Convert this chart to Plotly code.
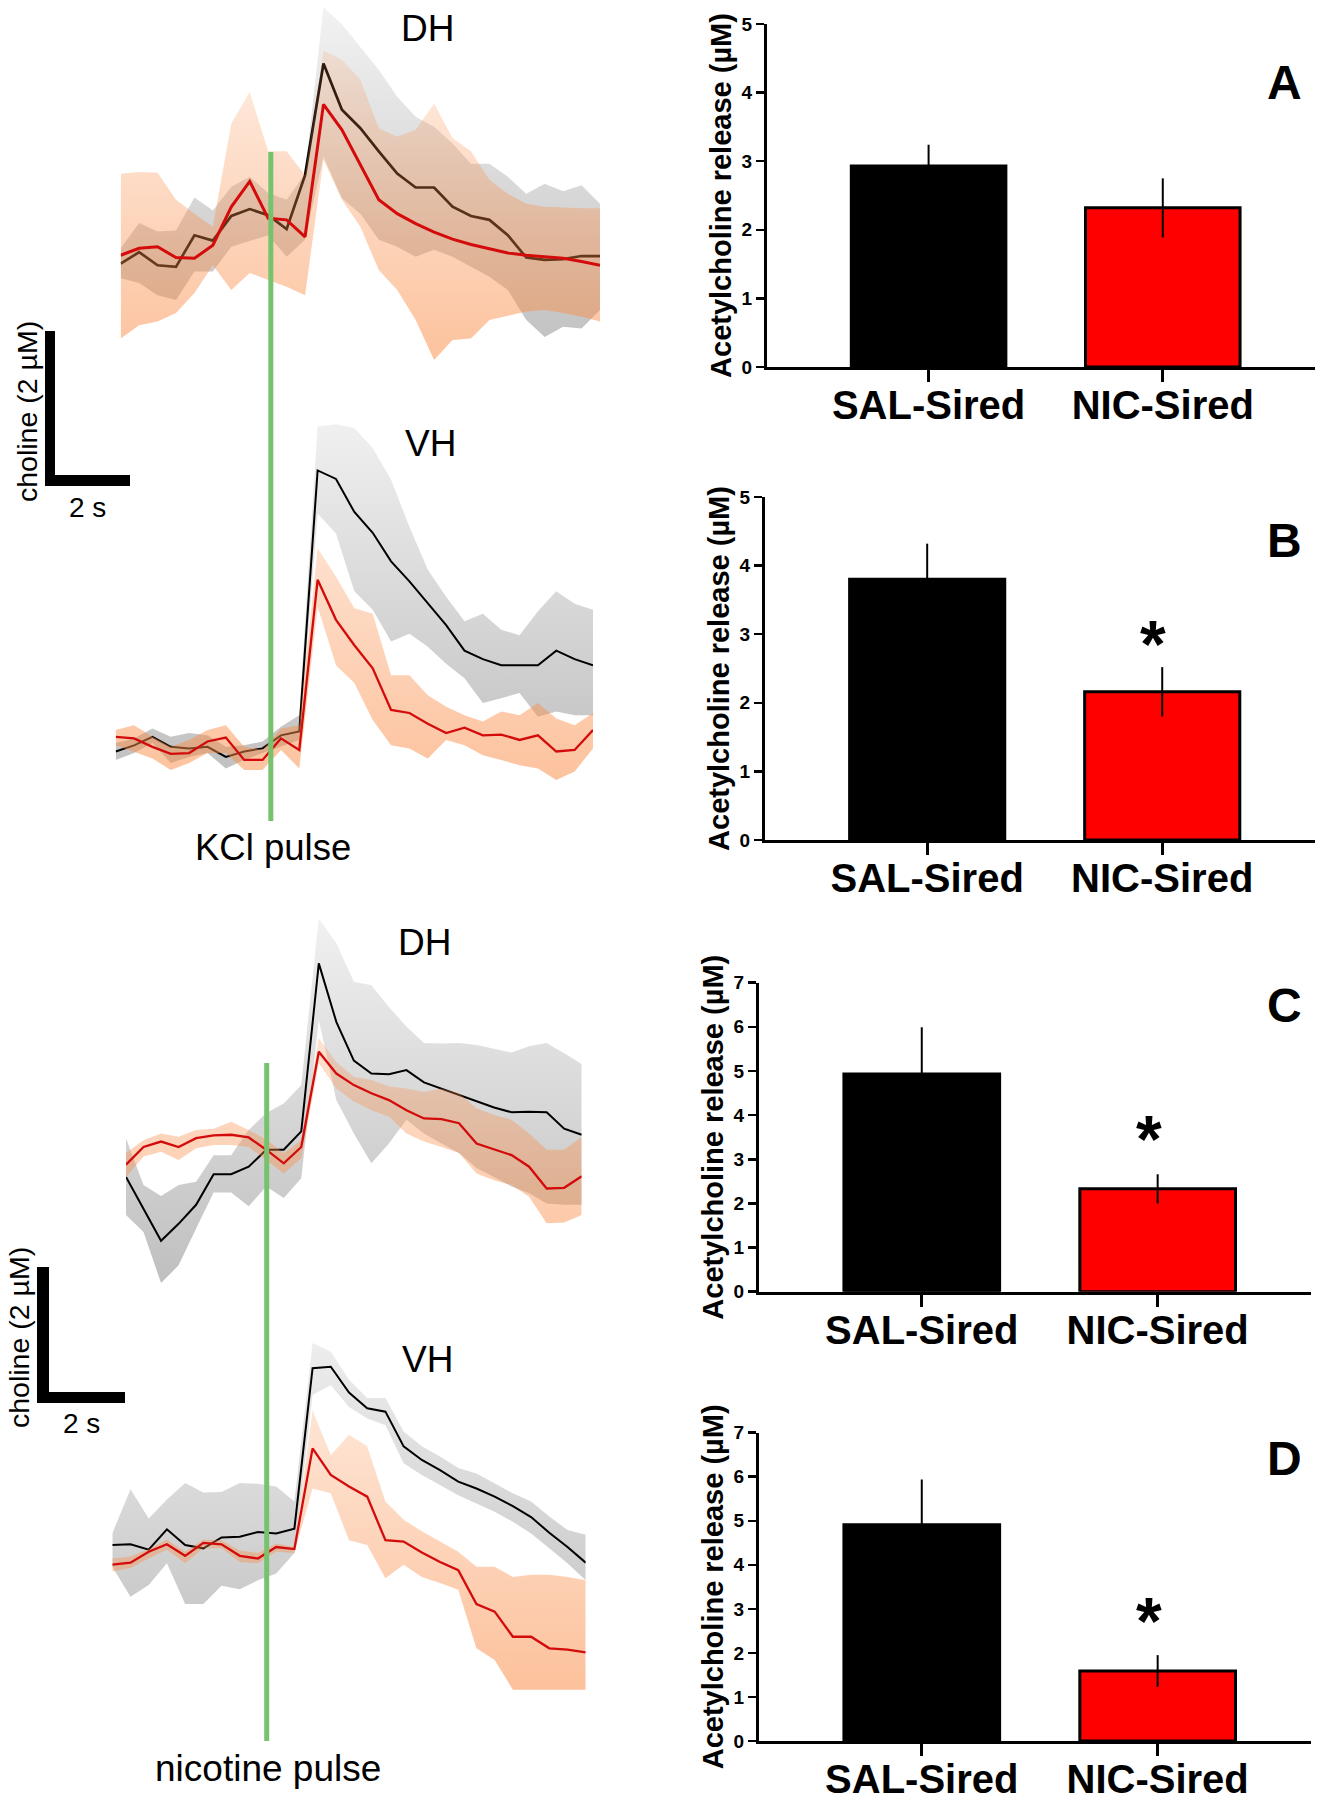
import plotly.graph_objects as go

W, H = 1317, 1800
FONT = "Liberation Sans, Arial, Helvetica, sans-serif"

# ---------------- trace data: choline (uM), one value per sample ----------------
SAMPLES = list(range(27))

# KCl pulse, dorsal hippocampus (DH)
KCL_DH_SAL_MEAN = [1.51, 1.66, 1.49, 1.47, 1.88, 1.81, 2.13, 2.22, 2.14, 1.96, 2.66, 4.11, 3.51, 3.27, 2.97, 2.68, 2.50, 2.50, 2.25, 2.13, 2.08, 1.88, 1.59, 1.56, 1.57, 1.61, 1.61]
KCL_DH_SAL_HI = [1.71, 2.04, 1.93, 1.94, 2.37, 2.20, 2.51, 2.64, 2.43, 2.34, 2.68, 4.84, 4.62, 4.33, 4.03, 3.68, 3.42, 3.29, 3.07, 2.81, 2.81, 2.64, 2.42, 2.55, 2.45, 2.53, 2.29]
KCL_DH_SAL_LO = [1.32, 1.26, 1.10, 1.04, 1.41, 1.41, 1.73, 1.80, 1.88, 1.60, 1.82, 2.90, 2.36, 2.16, 1.82, 1.73, 1.60, 1.69, 1.60, 1.47, 1.34, 1.17, 0.78, 0.56, 0.69, 0.67, 0.91]
KCL_DH_NIC_MEAN = [1.62, 1.71, 1.73, 1.59, 1.58, 1.75, 2.25, 2.58, 2.10, 2.08, 1.86, 3.58, 3.25, 2.79, 2.34, 2.16, 2.03, 1.92, 1.83, 1.76, 1.70, 1.65, 1.62, 1.60, 1.58, 1.54, 1.49]
KCL_DH_NIC_HI = [2.68, 2.70, 2.69, 2.34, 2.16, 1.99, 3.33, 3.74, 2.97, 2.97, 2.66, 4.28, 4.16, 3.90, 3.27, 3.16, 3.25, 3.59, 3.14, 2.97, 2.60, 2.42, 2.29, 2.25, 2.24, 2.23, 2.23]
KCL_DH_NIC_LO = [0.54, 0.71, 0.76, 0.87, 1.13, 1.49, 1.17, 1.39, 1.30, 1.21, 1.10, 2.86, 2.34, 1.99, 1.43, 1.17, 0.78, 0.26, 0.52, 0.54, 0.78, 0.84, 0.89, 0.91, 0.87, 0.82, 0.76]

# KCl pulse, ventral hippocampus (VH)
KCL_VH_SAL_MEAN = [0.63, 0.71, 0.82, 0.69, 0.67, 0.69, 0.56, 0.63, 0.67, 0.84, 0.89, 4.28, 4.17, 3.74, 3.47, 3.10, 2.84, 2.56, 2.27, 1.94, 1.83, 1.75, 1.75, 1.75, 1.94, 1.83, 1.75]
KCL_VH_SAL_HI = [0.74, 0.80, 0.93, 0.82, 0.87, 0.84, 0.69, 0.71, 0.76, 0.95, 1.10, 4.85, 4.88, 4.83, 4.57, 4.16, 3.55, 2.99, 2.64, 2.32, 2.42, 2.21, 2.14, 2.45, 2.71, 2.55, 2.47]
KCL_VH_SAL_LO = [0.52, 0.61, 0.74, 0.48, 0.56, 0.61, 0.41, 0.52, 0.61, 0.69, 0.78, 3.72, 3.46, 2.71, 2.47, 2.06, 2.16, 1.99, 1.77, 1.58, 1.26, 1.32, 1.39, 1.08, 1.15, 1.10, 1.10]
KCL_VH_NIC_MEAN = [0.82, 0.80, 0.69, 0.60, 0.61, 0.76, 0.81, 0.52, 0.52, 0.80, 0.65, 2.86, 2.34, 2.01, 1.71, 1.17, 1.13, 0.99, 0.87, 0.94, 0.84, 0.85, 0.78, 0.84, 0.63, 0.65, 0.91]
KCL_VH_NIC_HI = [0.91, 0.97, 0.82, 0.69, 0.78, 0.91, 0.97, 0.69, 0.65, 0.93, 0.97, 3.27, 2.90, 2.49, 2.42, 1.62, 1.62, 1.36, 1.21, 1.10, 1.02, 1.15, 1.10, 1.26, 1.06, 0.97, 1.13]
KCL_VH_NIC_LO = [0.71, 0.63, 0.54, 0.39, 0.48, 0.61, 0.61, 0.39, 0.39, 0.65, 0.41, 2.51, 1.75, 1.52, 1.04, 0.71, 0.67, 0.54, 0.78, 0.71, 0.58, 0.52, 0.45, 0.41, 0.26, 0.37, 0.67]

# nicotine pulse, DH
NIC_DH_SAL_MEAN = [1.81, 1.35, 0.87, 1.12, 1.40, 1.85, 1.85, 1.96, 2.21, 2.21, 2.48, 4.95, 4.09, 3.52, 3.33, 3.32, 3.38, 3.20, 3.11, 3.01, 2.92, 2.83, 2.76, 2.77, 2.76, 2.52, 2.43]
NIC_DH_SAL_HI = [2.38, 1.69, 1.53, 1.69, 1.74, 2.13, 2.13, 2.50, 2.75, 2.89, 3.16, 5.61, 5.25, 4.68, 4.63, 4.31, 4.02, 3.78, 3.77, 3.78, 3.75, 3.70, 3.64, 3.73, 3.78, 3.63, 3.47]
NIC_DH_SAL_LO = [1.25, 1.00, 0.25, 0.51, 1.05, 1.58, 1.58, 1.38, 1.67, 1.50, 1.79, 4.12, 2.94, 2.45, 2.01, 2.30, 2.65, 2.45, 2.30, 2.16, 1.94, 1.81, 1.67, 1.57, 1.42, 1.40, 1.40]
NIC_DH_NIC_MEAN = [1.99, 2.25, 2.33, 2.25, 2.38, 2.42, 2.43, 2.39, 2.21, 2.01, 2.25, 3.65, 3.33, 3.16, 3.04, 2.94, 2.79, 2.67, 2.66, 2.60, 2.30, 2.21, 2.13, 1.96, 1.64, 1.65, 1.82]
NIC_DH_NIC_HI = [2.16, 2.35, 2.45, 2.40, 2.50, 2.52, 2.62, 2.50, 2.36, 2.16, 2.35, 3.85, 3.50, 3.28, 3.24, 3.14, 3.11, 3.06, 3.11, 3.04, 2.82, 2.72, 2.65, 2.45, 2.21, 2.21, 2.40]
NIC_DH_NIC_LO = [1.81, 2.11, 2.18, 2.06, 2.23, 2.28, 2.28, 2.25, 2.06, 1.86, 2.08, 3.48, 3.11, 2.92, 2.79, 2.70, 2.45, 2.33, 2.25, 2.16, 1.86, 1.76, 1.69, 1.52, 1.13, 1.14, 1.25]

# nicotine pulse, VH
NIC_VH_SAL_MEAN = [2.28, 2.29, 2.21, 2.51, 2.28, 2.23, 2.39, 2.40, 2.47, 2.45, 2.52, 4.88, 4.90, 4.52, 4.29, 4.24, 3.73, 3.53, 3.38, 3.21, 3.11, 2.99, 2.85, 2.69, 2.46, 2.25, 2.02]
NIC_VH_SAL_HI = [2.45, 3.10, 2.67, 2.95, 3.19, 3.05, 3.06, 3.19, 3.18, 3.14, 2.92, 5.25, 5.12, 4.71, 4.44, 4.44, 3.95, 3.73, 3.58, 3.41, 3.33, 3.19, 3.04, 2.92, 2.70, 2.50, 2.43]
NIC_VH_SAL_LO = [1.96, 1.52, 1.69, 2.01, 1.41, 1.41, 1.68, 1.63, 1.76, 1.86, 2.16, 4.49, 4.63, 4.31, 4.14, 4.04, 3.48, 3.31, 3.16, 3.01, 2.89, 2.77, 2.62, 2.45, 2.23, 2.01, 1.76]
NIC_VH_NIC_MEAN = [1.99, 2.02, 2.18, 2.29, 2.12, 2.31, 2.29, 2.12, 2.08, 2.25, 2.22, 3.70, 3.31, 3.14, 2.99, 2.35, 2.33, 2.17, 2.03, 1.91, 1.41, 1.30, 0.93, 0.93, 0.76, 0.74, 0.70]
NIC_VH_NIC_HI = [2.08, 2.11, 2.22, 2.36, 2.18, 2.36, 2.35, 2.20, 2.16, 2.30, 2.25, 4.26, 3.60, 3.90, 3.73, 2.92, 2.65, 2.48, 2.33, 2.18, 1.96, 1.96, 1.81, 1.84, 1.84, 1.81, 1.76]
NIC_VH_NIC_LO = [1.89, 1.94, 2.08, 2.21, 2.01, 2.23, 2.23, 2.03, 2.01, 2.18, 2.16, 3.11, 3.04, 2.35, 2.28, 1.79, 1.99, 1.81, 1.72, 1.62, 0.76, 0.59, 0.15, 0.15, 0.15, 0.15, 0.15]

# pulse onset, in samples
KCL_PULSE_SAMPLE = 8.45
NIC_PULSE_SAMPLE = 8.48

# ---------------- bar data: acetylcholine release (uM) ----------------
GROUPS = ["SAL-Sired", "NIC-Sired"]
ACH_A = [2.93, 2.32]
ACH_A_SEM = [0.31, 0.43]
ACH_B = [3.80, 2.16]
ACH_B_SEM = [0.52, 0.36]
ACH_C = [4.93, 2.33]
ACH_C_SEM = [1.06, 0.33]
ACH_D = [4.91, 1.59]
ACH_D_SEM = [1.03, 0.36]
PANEL_LETTERS = ["A", "B", "C", "D"]
SIGNIFICANT = [False, True, True, True]


def px_x(px):
    return px / W


def px_y(py):
    return 1 - py / H


fig = go.Figure()

GRAY_GRAD = [[0, "rgba(105,105,105,0.44)"], [1, "rgba(105,105,105,0.08)"]]
ORANGE_GRAD = [[0, "rgba(250,140,70,0.55)"], [1, "rgba(250,140,70,0.10)"]]
RED = "#d30b0b"

trace_panels = [
    dict(sal=(KCL_DH_SAL_MEAN, KCL_DH_SAL_HI, KCL_DH_SAL_LO), nic=(KCL_DH_NIC_MEAN, KCL_DH_NIC_HI, KCL_DH_NIC_LO),
         xdom=(120.7, 600), ydom=(0, 380), ymax=4.935, lw=3.0),
    dict(sal=(KCL_VH_SAL_MEAN, KCL_VH_SAL_HI, KCL_VH_SAL_LO), nic=(KCL_VH_NIC_MEAN, KCL_VH_NIC_HI, KCL_VH_NIC_LO),
         xdom=(115.7, 593), ydom=(400, 800), ymax=5.195, lw=2.3),
    dict(sal=(NIC_DH_SAL_MEAN, NIC_DH_SAL_HI, NIC_DH_SAL_LO), nic=(NIC_DH_NIC_MEAN, NIC_DH_NIC_HI, NIC_DH_NIC_LO),
         xdom=(126, 581.7), ydom=(900, 1300), ymax=5.882, lw=2.3),
    dict(sal=(NIC_VH_SAL_MEAN, NIC_VH_SAL_HI, NIC_VH_SAL_LO), nic=(NIC_VH_NIC_MEAN, NIC_VH_NIC_HI, NIC_VH_NIC_LO),
         xdom=(112.3, 585.7), ydom=(1300, 1700), ymax=5.882, lw=2.3),
]

layout_axes = {}
for i, p in enumerate(trace_panels):
    n = i + 1
    xa, ya = ("x", "y") if n == 1 else (f"x{n}", f"y{n}")
    common = dict(xaxis=xa, yaxis=ya, showlegend=False, hoverinfo="skip")
    s_mean, s_hi, s_lo = p["sal"]
    n_mean, n_hi, n_lo = p["nic"]
    grad_g = dict(type="vertical", colorscale=GRAY_GRAD, start=0, stop=p["ymax"])
    grad_o = dict(type="vertical", colorscale=ORANGE_GRAD, start=0, stop=p["ymax"])
    fig.add_trace(go.Scatter(x=SAMPLES, y=s_lo, mode="lines", line=dict(width=0, color="rgba(0,0,0,0)"), **common))
    fig.add_trace(go.Scatter(x=SAMPLES, y=s_hi, mode="lines", line=dict(width=0, color="rgba(0,0,0,0)"),
                             fill="tonexty", fillgradient=grad_g, **common))
    fig.add_trace(go.Scatter(x=SAMPLES, y=s_mean, mode="lines", line=dict(width=p["lw"] - 0.3, color="black"), **common))
    fig.add_trace(go.Scatter(x=SAMPLES, y=n_lo, mode="lines", line=dict(width=0, color="rgba(0,0,0,0)"), **common))
    fig.add_trace(go.Scatter(x=SAMPLES, y=n_hi, mode="lines", line=dict(width=0, color="rgba(0,0,0,0)"),
                             fill="tonexty", fillgradient=grad_o, **common))
    fig.add_trace(go.Scatter(x=SAMPLES, y=n_mean, mode="lines", line=dict(width=p["lw"], color=RED), **common))
    xk = "xaxis" if n == 1 else f"xaxis{n}"
    yk = "yaxis" if n == 1 else f"yaxis{n}"
    layout_axes[xk] = dict(domain=[px_x(p["xdom"][0]), px_x(p["xdom"][1])], range=[0, 26], visible=False,
                           anchor=ya, fixedrange=True)
    layout_axes[yk] = dict(domain=[px_y(p["ydom"][1]), px_y(p["ydom"][0])], range=[0, p["ymax"]], visible=False,
                           anchor=xa, fixedrange=True)

# ---------------- bar charts ----------------
bar_sets = [(ACH_A, ACH_A_SEM), (ACH_B, ACH_B_SEM), (ACH_C, ACH_C_SEM), (ACH_D, ACH_D_SEM)]
bar_geom = [
    dict(xdom=(767, 1315), ydom=(24, 367), ymax=5),
    dict(xdom=(765, 1315), ydom=(497, 840), ymax=5),
    dict(xdom=(759, 1311), ydom=(982.7, 1291.7), ymax=7),
    dict(xdom=(759, 1311), ydom=(1432.7, 1741), ymax=7),
]
letter_pos = [(1284, 83), (1284, 540), (1284, 1005), (1284, 1458)]
star_shift = [0, -16, -4, -5]

annotations = []
for k, ((vals, sems), g) in enumerate(zip(bar_sets, bar_geom)):
    n = k + 5
    xa, ya = f"x{n}", f"y{n}"
    fig.add_trace(go.Bar(
        x=GROUPS, y=vals, width=0.66, xaxis=xa, yaxis=ya, showlegend=False,
        marker=dict(color=["#000000", "#ff0000"], line=dict(color="black", width=3)),
        error_y=dict(type="data", array=sems, symmetric=True, color="black", thickness=2, width=0),
    ))
    layout_axes[f"xaxis{n}"] = dict(
        domain=[px_x(g["xdom"][0]), px_x(g["xdom"][1])], range=[-0.69, 1.65], type="category",
        anchor=ya, showline=True, linewidth=3, linecolor="black", ticks="outside", ticklen=12,
        tickwidth=3, tickcolor="black", showgrid=False, zeroline=False, automargin=False,
        ticklabelstandoff=-11,
        tickfont=dict(family=FONT, size=40, color="black", weight=700), fixedrange=True,
    )
    layout_axes[f"yaxis{n}"] = dict(
        domain=[px_y(g["ydom"][1]), px_y(g["ydom"][0])], range=[0, g["ymax"]], dtick=1,
        anchor=xa, showline=True, linewidth=3, linecolor="black", ticks="outside", ticklen=8,
        tickwidth=2.5, tickcolor="black", showgrid=False, zeroline=False, automargin=False,
        tickfont=dict(family=FONT, size=19, color="black", weight=700), fixedrange=True,
        title=dict(text="Acetylcholine release (µM)", standoff=2,
                   font=dict(family=FONT, size=29, color="black", weight=700)),
    )
    lx, ly = letter_pos[k]
    annotations.append(dict(text=PANEL_LETTERS[k], x=px_x(lx), y=px_y(ly), xref="paper", yref="paper",
                            showarrow=False, xanchor="center", yanchor="middle",
                            font=dict(family=FONT, size=48, color="black", weight=700)))
    if SIGNIFICANT[k]:
        annotations.append(dict(text="*", x=GROUPS[1], y=vals[1] + sems[1], xref=xa, yref=ya,
                                showarrow=False, xanchor="center", yanchor="bottom", yshift=star_shift[k],
                                xshift=-9,
                                font=dict(family=FONT, size=66, color="black", weight=700)))

# ---------------- left-column labels ----------------
text_labels = [
    ("DH", 427, 29, 37), ("VH", 430, 443, 37), ("KCl pulse", 273, 847, 36.5),
    ("DH", 425, 942, 37), ("VH", 427, 1359, 37), ("nicotine pulse", 268, 1768, 37),
    ("2 s", 87, 507, 28), ("2 s", 81, 1423, 28),
]
for txt, x, y, s in text_labels:
    annotations.append(dict(text=txt, x=px_x(x), y=px_y(y), xref="paper", yref="paper", showarrow=False,
                            xanchor="center", yanchor="middle", font=dict(family=FONT, size=s, color="black")))
for x, y in [(27, 412), (19, 1338)]:
    annotations.append(dict(text="choline (2 µM)", x=px_x(x), y=px_y(y), xref="paper", yref="paper",
                            showarrow=False, textangle=-90, xanchor="center", yanchor="middle",
                            font=dict(family=FONT, size=28.5, color="black")))

shapes = []
# scale bars
for (x0, x1, y0, y1) in [(45, 55, 331, 486), (45, 130, 475, 486), (37, 49, 1267, 1403), (37, 125, 1392, 1403)]:
    shapes.append(dict(type="rect", xref="paper", yref="paper", x0=px_x(x0), x1=px_x(x1),
                       y0=px_y(y1), y1=px_y(y0), fillcolor="black", line=dict(width=0)))
# pulse markers
GREEN = "#76c26d"
shapes.append(dict(type="line", xref="x2", yref="paper", x0=KCL_PULSE_SAMPLE, x1=KCL_PULSE_SAMPLE,
                   y0=px_y(821), y1=px_y(152), line=dict(color=GREEN, width=5)))
shapes.append(dict(type="line", xref="x4", yref="paper", x0=NIC_PULSE_SAMPLE, x1=NIC_PULSE_SAMPLE,
                   y0=px_y(1741), y1=px_y(1063), line=dict(color=GREEN, width=5)))

fig.update_layout(
    width=W, height=H, margin=dict(l=0, r=0, t=0, b=0),
    paper_bgcolor="white", plot_bgcolor="rgba(0,0,0,0)", showlegend=False,
    font=dict(family=FONT, color="black"), annotations=annotations, shapes=shapes,
    **layout_axes,
)

fig.write_html("out.html", config={"displayModeBar": False, "staticPlot": True},
               post_script="document.body.style.margin='0';document.body.style.overflow='hidden';")
